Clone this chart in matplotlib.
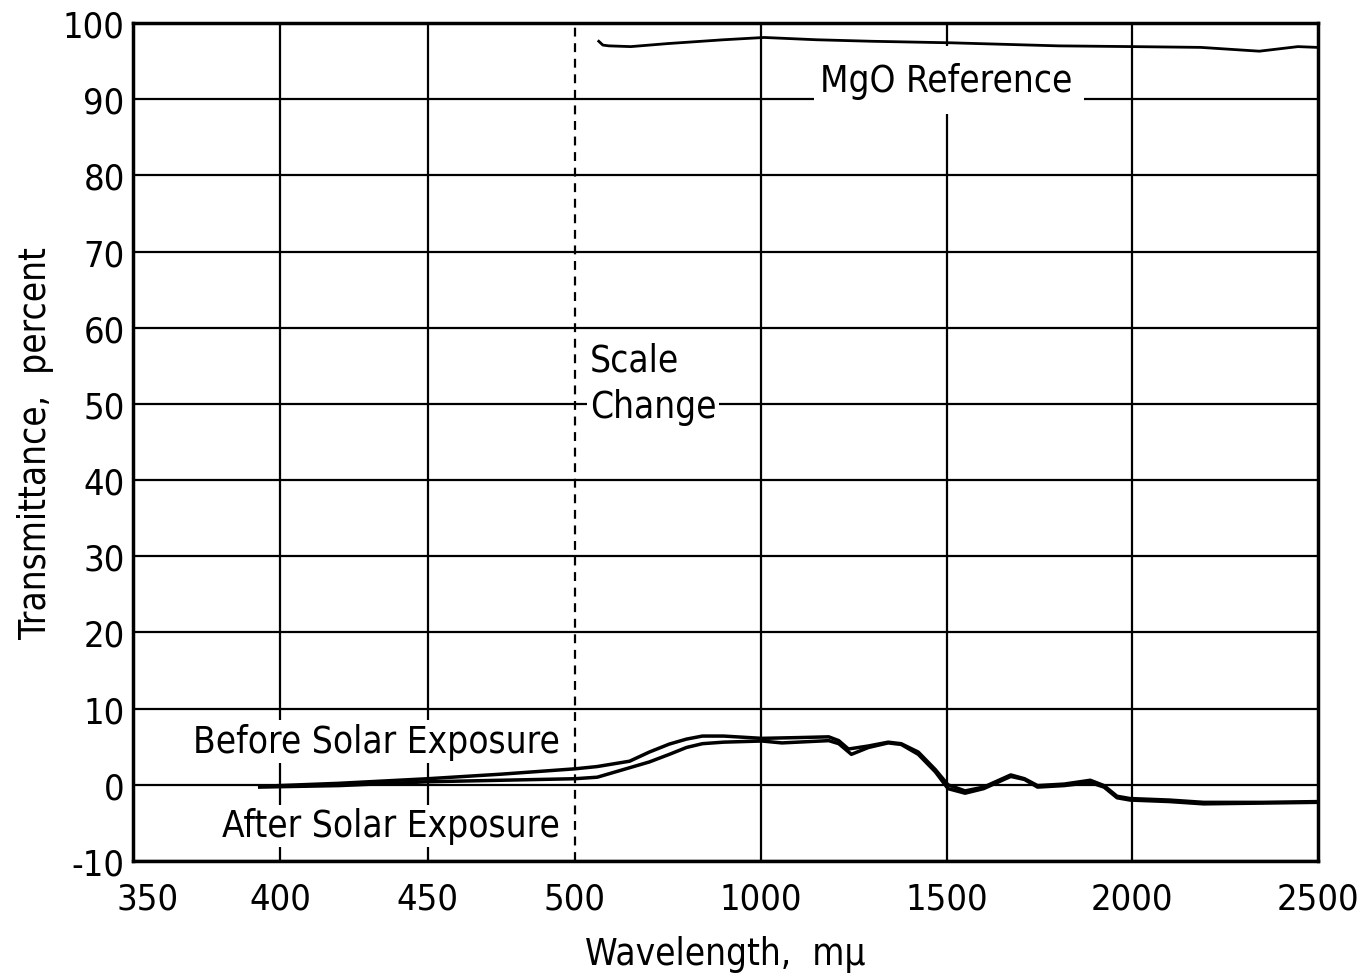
import numpy as np
import matplotlib
matplotlib.use("Agg")
import matplotlib.pyplot as plt
import matplotlib.transforms as mtransforms
from matplotlib.patches import Rectangle
from matplotlib import font_manager

# ---- data ----
before_wl = [393, 420, 450, 475, 500, 560, 647, 700, 754, 800, 843, 900, 1003, 1100, 1183, 1210,
             1236, 1290, 1343, 1378, 1424, 1470, 1504, 1550, 1600, 1673, 1710, 1745, 1817,
             1887, 1924, 1959, 1994, 2100, 2192, 2350, 2500]
before_t = [-0.2, 0.2, 0.8, 1.4, 2.1, 2.4, 3.1, 4.3, 5.35, 6.0, 6.4, 6.4, 6.1, 6.2, 6.3, 5.8,
            4.7, 5.1, 5.6, 5.4, 4.3, 2.0, 0.0, -0.8, -0.3, 1.3, 0.8, -0.1, 0.1,
            0.6, -0.1, -1.5, -1.8, -2.0, -2.3, -2.3, -2.2]
after_wl = [393, 420, 450, 475, 500, 560, 637, 700, 754, 800, 843, 900, 1003, 1057, 1183, 1210,
            1244, 1290, 1343, 1378, 1424, 1470, 1504, 1550, 1600, 1673, 1710, 1745, 1817,
            1887, 1924, 1959, 1994, 2100, 2192, 2350, 2500]
after_t = [-0.3, -0.1, 0.4, 0.6, 0.8, 1.0, 2.1, 3.0, 4.0, 4.9, 5.4, 5.6, 5.75, 5.5, 5.8, 5.4,
           4.0, 4.9, 5.5, 5.3, 4.0, 1.7, -0.5, -1.1, -0.5, 1.1, 0.7, -0.3, -0.1,
           0.3, -0.3, -1.7, -2.0, -2.2, -2.5, -2.4, -2.3]
mgo_wl = [564, 575, 591, 650, 750, 900, 1009, 1150, 1300, 1512, 1800, 2002, 2184, 2342, 2446, 2497]
mgo_t = [97.6, 97.1, 97.0, 96.9, 97.3, 97.8, 98.1, 97.8, 97.6, 97.4, 97.0, 96.9, 96.8, 96.3, 96.9, 96.8]

x_ticks = [350, 400, 450, 500, 1000, 1500, 2000, 2500]
x_grid = [400, 450, 1000, 1500, 2000]
y_ticks = list(range(-10, 101, 10))

# ---- piecewise scale ----
W1 = 442.0 / 1185.0
W2 = 1.0 - W1

def fwd(x):
    x = np.asarray(x, dtype=float)
    return np.where(x <= 500, (x - 350) / 150.0 * W1, W1 + (x - 500) / 2000.0 * W2)

def inv(u):
    u = np.asarray(u, dtype=float)
    return np.where(u <= W1, 350 + u / W1 * 150.0, 500 + (u - W1) / W2 * 2000.0)

available = {f.name for f in font_manager.fontManager.ttflist}
fam = "Liberation Sans Narrow" if "Liberation Sans Narrow" in available else "DejaVu Sans"
plt.rcParams['font.family'] = [fam, 'DejaVu Sans']
if fam == "DejaVu Sans":
    plt.rcParams['font.stretch'] = 'condensed'

FS = 26.5

fig = plt.figure(figsize=(13.64, 9.78), dpi=100)
ax = fig.add_axes([133/1364, 1 - 862/978, (1318-133)/1364, (862-24)/978])
ax.set_xscale('function', functions=(fwd, inv))
ax.set_xlim(350, 2500)
ax.set_ylim(-10, 100)

for g in x_grid:
    ax.axvline(g, color='black', lw=1.6, zorder=1)
for v in y_ticks:
    ax.axhline(v, color='black', lw=1.6, zorder=1)
ax.axvline(500, color='black', lw=1.6, ls=(0, (4, 3)), zorder=3)

ax.plot(before_wl, before_t, color='black', lw=2.5, zorder=4)
ax.plot(after_wl, after_t, color='black', lw=2.5, zorder=4)
ax.plot(mgo_wl, mgo_t, color='black', lw=2.0, zorder=4)

ax.set_xticks(x_ticks)
ax.set_xticklabels([str(t) for t in x_ticks])
ax.set_yticks(y_ticks)
ax.set_yticklabels([str(t) for t in y_ticks])
ax.minorticks_off()
ax.tick_params(length=0, labelsize=26)
ax.tick_params(axis='x', pad=15)
ax.tick_params(axis='y', pad=6)
first = ax.get_xticklabels()[0]
first.set_transform(first.get_transform() + mtransforms.ScaledTranslation(15/100, 0, fig.dpi_scale_trans))
for s in ax.spines.values():
    s.set_linewidth(2.5)

ax.set_xlabel('Wavelength,  mμ', fontsize=FS, labelpad=14)
ax.set_ylabel('Transmittance,  percent', fontsize=FS, labelpad=6)

# white box behind the MgO label
ax.add_patch(Rectangle((1143, 88.05), 1871 - 1143, 97.0 - 88.05, facecolor='white',
                       edgecolor='none', zorder=2))

bb = dict(facecolor='white', edgecolor='none', pad=2)
ax.text(495, 5.7, 'Before Solar Exposure', ha='right', va='center', fontsize=FS, bbox=bb, zorder=5)
ax.text(495, -5.4, 'After Solar Exposure', ha='right', va='center', fontsize=FS, bbox=bb, zorder=5)
ax.text(1500, 92.5, 'MgO Reference', ha='center', va='center', fontsize=FS, zorder=5)
ax.text(540, 55.7, 'Scale', ha='left', va='center', fontsize=FS, bbox=bb, zorder=5)
ax.text(540, 49.6, 'Change', ha='left', va='center', fontsize=FS, bbox=bb, zorder=5)

fig.savefig('out.png', dpi=100)
